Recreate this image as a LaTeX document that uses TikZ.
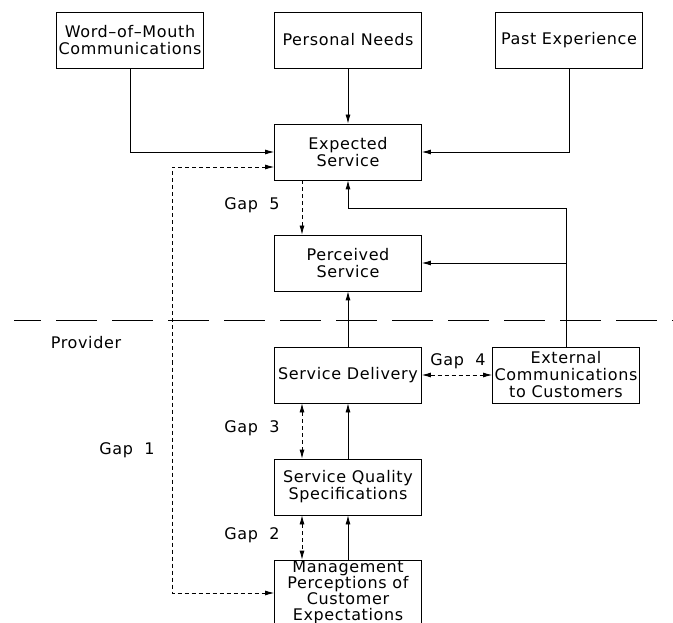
\documentclass[tikz,border=0pt]{standalone}
\usepackage{fontspec}
\setmainfont{DejaVu Sans}[LetterSpace=4]
\usetikzlibrary{arrows.meta}
\newcommand{\boxfont}{\fontsize{16}{17}\selectfont}
\newcommand{\tightfont}{\fontsize{16}{16}\selectfont}
\tikzset{
	box/.style={draw, line width=0.8pt, minimum width=147pt, minimum height=56pt, inner sep=0pt, align=center, font=\boxfont},
	lbl/.style={inner sep=0pt, font=\boxfont},
	flow/.style={line width=0.8pt},
	gapline/.style={line width=0.8pt, dash pattern=on 4pt off 3pt},
	divider/.style={line width=0.8pt, dash pattern=on 41pt off 15pt, dash phase=14pt}
}

\begin{document}
\begin{tikzpicture}[x=1pt, y=-1pt, >={Latex[length=9pt,width=5pt]}]

	\useasboundingbox (0,0) rectangle (673,623);
	\clip (0,0) rectangle (673,623);

	\node[box] (wom) at (130,40) {Word--of--Mouth\\Communications};
	\node[box] (needs) at (348,40) {Personal Needs};
	\node[box] (past) at (569,40) {Past Experience};

	\node[box] (expected) at (348,152) {Expected\\Service};
	\node[box] (perceived) at (348,263) {Perceived\\Service};

	\node[box] (delivery) at (348,375) {Service Delivery};
	\node[box] (extcomm) at (566,375) {External\\Communications\\to Customers};
	\node[box] (specs) at (348,487) {Service Quality\\Specifications};
	\node[box, minimum height=64pt, font=\tightfont] (mgmt) at (348,592) {Management\\Perceptions of\\Customer\\Expectations};

	\node[lbl] (gapfive) at (252,205) {Gap~~5};
	\node[lbl] (gapfour) at (458,361) {Gap~~4};
	\node[lbl] (gapthree) at (252,428) {Gap~~3};
	\node[lbl] (gaptwo) at (252,535) {Gap~~2};
	\node[lbl] (gapone) at (127,450) {Gap~~1};
	\node[lbl] (provider) at (86,343) {Provider};

	\coordinate (left) at (14,320);
	\coordinate (right) at (673,320);
	\coordinate (gx) at (302,0);
	\coordinate (gonetop) at (172,167);
	\coordinate (gonebot) at (172,593);
	\coordinate (turn) at (566,208);

	\draw[divider] (left) -- (right);

	\draw[flow,->] (wom) |- (expected);
	\draw[flow,->] (needs) -- (expected);
	\draw[flow,->] (past) |- (expected);

	\draw[flow] (extcomm) -- (turn);
	\draw[flow,->] (turn) -| (expected);
	\draw[flow,->] (turn |- perceived) -- (perceived);

	\draw[flow,->] (delivery) -- (perceived);
	\draw[flow,->] (specs) -- (delivery);
	\draw[flow,->] (mgmt) -- (specs);

	\draw[gapline,<->] (expected.west |- gonetop) -- (gonetop) -- (gonebot) -- (mgmt.west |- gonebot);
	\draw[gapline,->] (expected.south -| gx) -- (perceived.north -| gx);
	\draw[gapline,<->] (delivery) -- (extcomm);
	\draw[gapline,<->] (delivery.south -| gx) -- (specs.north -| gx);
	\draw[gapline,<->] (specs.south -| gx) -- (mgmt.north -| gx);

\end{tikzpicture}
\end{document}
